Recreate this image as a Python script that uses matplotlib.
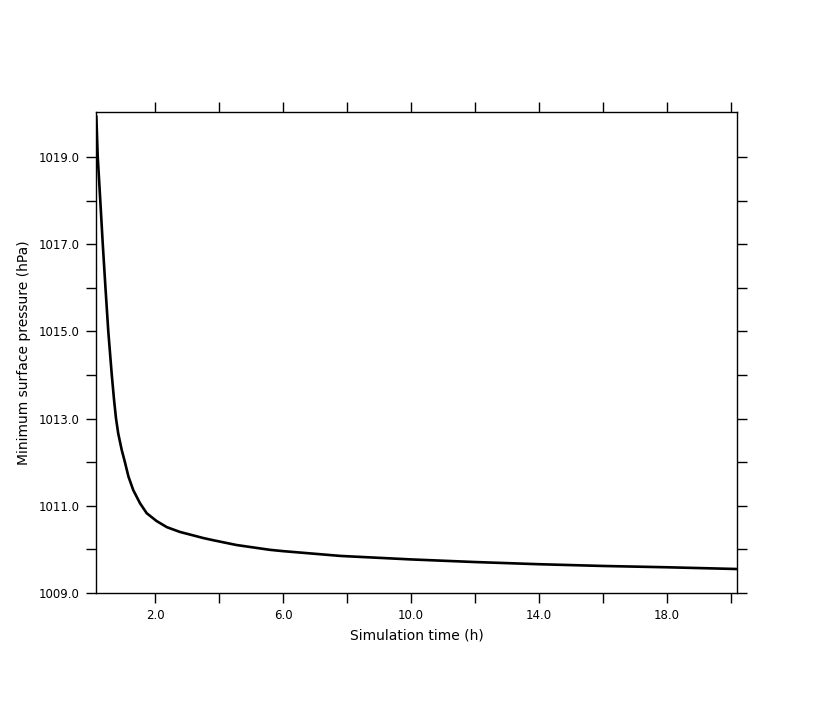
import matplotlib
matplotlib.use("Agg")
import matplotlib.pyplot as plt
from matplotlib.ticker import FixedLocator, FixedFormatter

time_h = [0.167, 0.21, 0.29, 0.365, 0.45, 0.54, 0.647, 0.72, 0.78, 0.85,
          0.96, 1.06, 1.17, 1.32, 1.53, 1.74, 2.05, 2.37, 2.78, 3.20, 3.51,
          3.82, 4.55, 5.59, 6.0, 7.8, 10.0, 12.0, 14.0, 16.0, 18.0, 20.19]
pressure = [1019.92, 1019.0, 1018.0, 1017.03, 1016.02, 1015.0, 1014.02,
            1013.43, 1013.01, 1012.66, 1012.28, 1012.0, 1011.67, 1011.36,
            1011.06, 1010.83, 1010.65, 1010.51, 1010.40, 1010.32, 1010.26,
            1010.21, 1010.10, 1009.99, 1009.96, 1009.85, 1009.77, 1009.71,
            1009.66, 1009.62, 1009.59, 1009.55]

xtick_labels = [2.0, 6.0, 10.0, 14.0, 18.0]
xtick_minor = [4.0, 8.0, 12.0, 16.0, 20.0]
ytick_labels = [1009.0, 1011.0, 1013.0, 1015.0, 1017.0, 1019.0]
ytick_minor = [1010.0, 1012.0, 1014.0, 1016.0, 1018.0]

fig = plt.figure(figsize=(8.19, 7.06), dpi=100)
ax = fig.add_axes([96/819, 1-593/706, (737-96)/819, (593-112)/706])

ax.plot(time_h, pressure, color="black", lw=1.9)

ax.set_xlim(0.156, 20.19)
ax.set_ylim(1009.0, 1020.03)

ax.xaxis.set_major_locator(FixedLocator(xtick_labels))
ax.xaxis.set_major_formatter(FixedFormatter([f"{v:.1f}" for v in xtick_labels]))
ax.xaxis.set_minor_locator(FixedLocator(xtick_minor))
ax.yaxis.set_major_locator(FixedLocator(ytick_labels))
ax.yaxis.set_major_formatter(FixedFormatter([f"{v:.1f}" for v in ytick_labels]))
ax.yaxis.set_minor_locator(FixedLocator(ytick_minor))

for which in ("major", "minor"):
    ax.tick_params(axis="both", which=which, direction="out", length=7.5, width=1.0,
                   top=True, right=True, labelsize=8.5, pad=4, color="black")
for s in ax.spines.values():
    s.set_linewidth(1.0)

ax.set_xlabel("Simulation time (h)", fontsize=10, labelpad=5)
ax.set_ylabel("Minimum surface pressure (hPa)", fontsize=10, labelpad=6)

fig.savefig("out.png", dpi=100, facecolor="white")
